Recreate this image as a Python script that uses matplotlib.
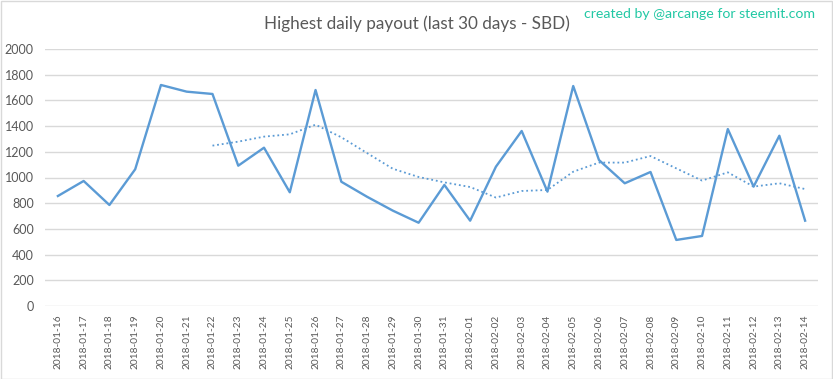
import numpy as np
import matplotlib.pyplot as plt
from matplotlib.patches import Rectangle

plt.rcParams['font.family'] = ['Lato', 'DejaVu Sans']

dates = ['2018-01-%02d' % d for d in range(16, 32)] + ['2018-02-%02d' % d for d in range(1, 15)]

# highest payout per day (SBD)
payout = [856, 973, 786, 1064, 1720, 1668, 1650, 1092, 1232, 885,
          1681, 967, 850, 742, 648, 942, 664, 1084, 1362, 890,
          1712, 1136, 955, 1043, 514, 545, 1377, 929, 1325, 664]

# dotted trend line, starts at 2018-01-22
trend = [1248, 1279, 1318, 1336, 1411, 1313, 1190, 1068, 1004, 962,
         926, 844, 895, 903, 1045, 1116, 1116, 1167, 1071, 976,
         1040, 929, 955, 910]

blue = '#5B9BD5'
grey = '#595959'

fig = plt.figure(figsize=(8.33, 3.79), dpi=100)
ax = fig.add_axes([45 / 833, 1 - 306 / 379, (818 - 45) / 833, (306 - 49) / 379])

x = np.arange(len(dates))
ax.plot(x, payout, color=blue, lw=1.7, solid_joinstyle='round', zorder=3)
ax.plot(x[len(dates) - len(trend):], trend, color=blue, lw=1.3, ls=(0, (1, 1.6)), zorder=3)

ax.set_xlim(-0.5, len(dates) - 0.5)
ax.set_ylim(0, 2000)
ax.set_yticks(np.arange(0, 2001, 200))
ax.set_xticks(x)
ax.set_xticklabels(dates, rotation=90, fontsize=7.3)
ax.tick_params(length=0, colors=grey)
ax.tick_params(axis='y', pad=8, labelsize=9)
ax.tick_params(axis='x', pad=6)
ax.grid(axis='y', color='#d9d9d9', lw=1)
ax.set_axisbelow(True)
for s in ax.spines.values():
    s.set_visible(False)

fig.text(0.5, 1 - 24 / 379, 'Highest daily payout (last 30 days - SBD)', ha='center', va='center',
         fontsize=12.3, color=grey)
fig.text(815 / 833, 1 - 14 / 379, 'created by @arcange for steemit.com', ha='right', va='center',
         fontsize=10.2, color='#22C8A4')

fig.patches.append(Rectangle((0.5 / 833, 0.5 / 379), 1 - 1.5 / 833, 1 - 1.5 / 379,
                             transform=fig.transFigure, fill=False, ec='#d9d9d9', lw=1))

fig.savefig('out.png', dpi=100)
